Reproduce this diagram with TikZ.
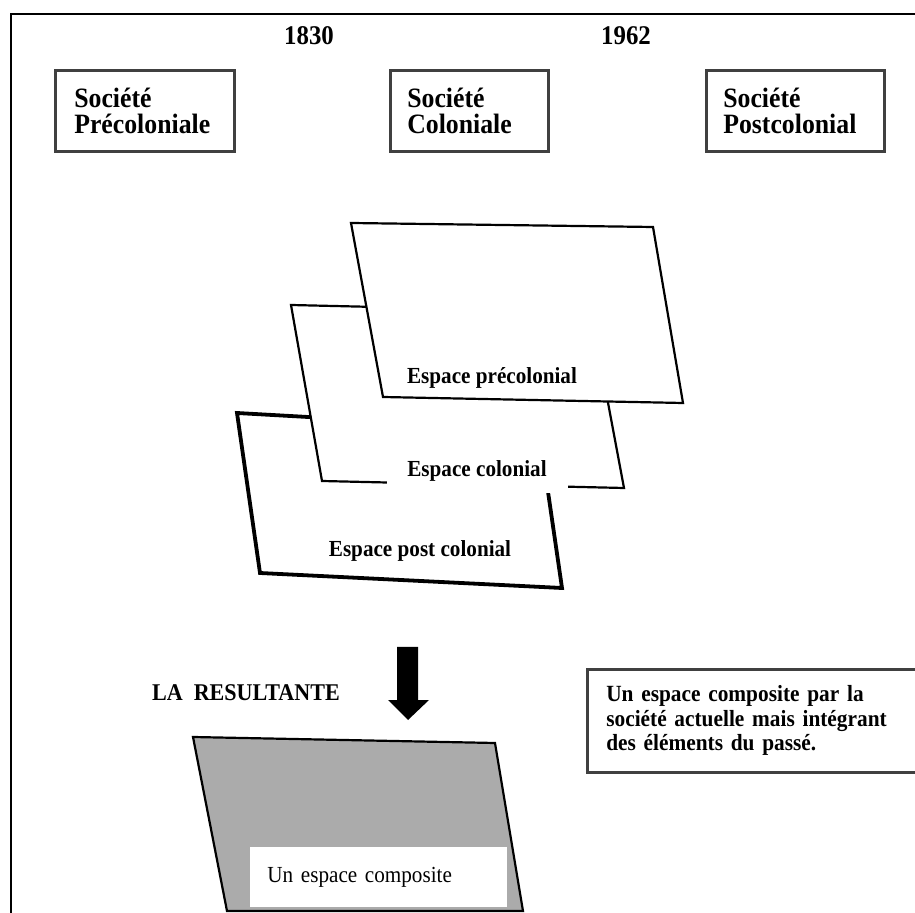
\documentclass[tikz,border=0pt]{standalone}
\usepackage{fontspec}
\setmainfont{Liberation Serif}[FakeStretch=0.92]
\usetikzlibrary{positioning}

\tikzset{
  societe/.style={draw=black!75, line width=1.3pt, anchor=north west, align=left,
    minimum height=40.5pt, inner xsep=8.5pt, font=\bfseries\fontsize{14}{13}\selectfont},
  annee/.style={font=\bfseries\fontsize{13.5}{13.5}\selectfont},
  espace/.style={draw, fill=white, line width=1.1pt},
  etiquette/.style={font=\bfseries\fontsize{11.5}{11.5}\selectfont},
}

\begin{document}
\begin{tikzpicture}[x=0.5pt, y=-0.5pt]
  \clip (0,0) rectangle (915,913);
  \draw[line width=0.8pt] (11,913) -- (11,14) -- (915,14);

  % les dates et les societes
  \node[annee] (an1830) at (309,36) {1830};
  \node[annee] (an1962) at (626,36) {1962};
  \node[societe, text width=70.5pt, inner xsep=9.5pt] (precol) at (54,69) {Société\\Précoloniale};
  \node[societe, text width=62pt] (col) at (389,69) {Société\\Coloniale};
  \node[societe, text width=72pt] (postcol) at (705,69) {Société\\Postcolonial};

  % les trois espaces superposes
  \filldraw[espace, line width=1.9pt] (237,413) -- (539,430) -- (562,588) -- (260,573) -- cycle;
  \node[etiquette] (epost) at (420,551) {Espace post colonial};
  \filldraw[espace] (291,305) -- (591,312) -- (624,488) -- (322,481) -- cycle;
  \node[etiquette, fill=white, minimum width=90.5pt, minimum height=22pt] (ecol) at (477,471) {Espace colonial};
  \filldraw[espace] (351,223) -- (653,227) -- (683,403) -- (383,397) -- cycle;
  \node[etiquette] (epre) at (492,378) {Espace précolonial};

  % la resultante
  \node[etiquette, font=\bfseries\fontsize{12}{12}\selectfont, anchor=west] (result) at (145,693) {LA~ RESULTANTE};
  \fill (397,647) -- (418,647) -- (418,700) -- (429,700) -- (408,720) -- (388,700) -- (397,700) -- cycle;
  \filldraw[espace, fill=black!33] (193,737) -- (495,743) -- (523,911) -- (227,911) -- cycle;
  \node[fill=white, anchor=north west, minimum width=128.5pt, minimum height=30pt, inner xsep=8.5pt,
    text width=111.5pt, align=left, font=\fontsize{11.5}{11.5}\selectfont] (comp) at (250,847) {Un espace composite};
  \node[draw=black!75, line width=1.3pt, anchor=north west, minimum height=51.5pt, inner xsep=9.5pt,
    text width=150pt, align=left, font=\bfseries\fontsize{11.6}{12.2}\selectfont] (def) at (586,668)
    {Un espace composite par la\\société actuelle mais intégrant\\des éléments du passé.};
\end{tikzpicture}
\end{document}
